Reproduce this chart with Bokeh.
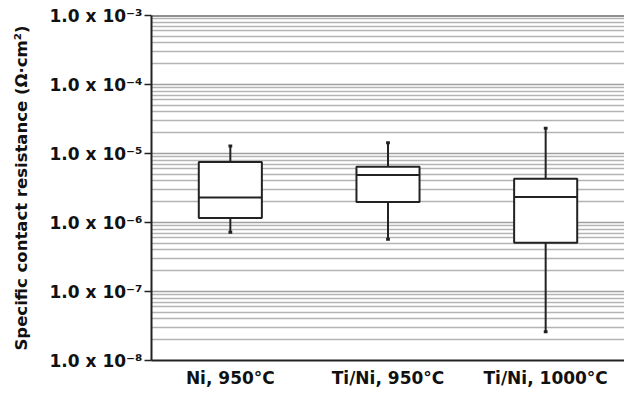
from bokeh.plotting import figure
from bokeh.embed import file_html
from bokeh.resources import INLINE
from bokeh.models import FixedTicker, Span

categories = ["Ni, 950°C", "Ti/Ni, 950°C", "Ti/Ni, 1000°C"]
whisker_low = [7.2e-7, 5.7e-7, 2.6e-8]
q1 = [1.16e-6, 1.98e-6, 5.1e-7]
median = [2.3e-6, 4.9e-6, 2.35e-6]
q3 = [7.5e-6, 6.4e-6, 4.3e-6]
whisker_high = [1.28e-5, 1.43e-5, 2.32e-5]
y_ticks = [1e-8, 1e-7, 1e-6, 1e-5, 1e-4, 1e-3]
y_tick_labels = ["1.0 x 10⁻⁸", "1.0 x 10⁻⁷", "1.0 x 10⁻⁶", "1.0 x 10⁻⁵", "1.0 x 10⁻⁴", "1.0 x 10⁻³"]

FONT = "DejaVu Sans"

p = figure(width=624, height=394, output_backend="svg", toolbar_location=None,
           y_axis_type="log", x_range=(0, 3), y_range=(1e-8, 1e-3),
           min_border_left=151, min_border_right=0, min_border_top=15, min_border_bottom=34)
p.outline_line_color = None
p.background_fill_color = "white"
p.border_fill_color = "white"

minor = [m * 10.0 ** e for e in range(-8, -3) for m in range(2, 10)]
p.yaxis.ticker = FixedTicker(ticks=y_ticks, minor_ticks=minor)
p.yaxis.major_label_overrides = {t: l for t, l in zip(y_ticks, y_tick_labels)}
p.ygrid.grid_line_color = "#a0a0a0"
p.ygrid.grid_line_width = 1.5
p.ygrid.minor_grid_line_color = "#b4b4b4"
p.ygrid.minor_grid_line_width = 1.5
p.xgrid.grid_line_color = None

p.yaxis.axis_line_color = "#222222"
p.yaxis.axis_line_width = 2
p.yaxis.major_tick_line_color = "#222222"
p.yaxis.major_tick_line_width = 1.5
p.yaxis.major_tick_out = 7
p.yaxis.major_tick_in = 0
p.yaxis.minor_tick_line_color = None
p.yaxis.major_label_text_font = FONT
p.yaxis.major_label_text_font_style = "bold"
p.yaxis.major_label_text_font_size = "17px"
p.yaxis.major_label_text_color = "#111111"
p.yaxis.major_label_standoff = 2
p.yaxis.axis_label = "Specific contact resistance (Ω·cm²)"
p.yaxis.axis_label_text_font = FONT
p.yaxis.axis_label_text_font_style = "bold"
p.yaxis.axis_label_text_font_size = "16.5px"
p.yaxis.axis_label_text_color = "#111111"
p.yaxis.axis_label_standoff = 16

xs = [0.5, 1.5, 2.5]
p.xaxis.ticker = FixedTicker(ticks=xs)
p.xaxis.major_label_overrides = {x: c for x, c in zip(xs, categories)}
p.xaxis.axis_line_color = "#222222"
p.xaxis.axis_line_width = 2
p.xaxis.major_tick_line_color = None
p.xaxis.minor_tick_line_color = None
p.xaxis.major_label_text_font = FONT
p.xaxis.major_label_text_font_style = "bold"
p.xaxis.major_label_text_font_size = "17px"
p.xaxis.major_label_text_color = "#111111"
p.xaxis.major_label_standoff = 1

p.add_layout(Span(location=1e-3, dimension="width", line_color="#222222", line_width=2))

bw = 0.2
cap = 0.012
p.segment(x0=xs, x1=xs, y0=q3, y1=whisker_high, line_color="#222222", line_width=2)
p.segment(x0=xs, x1=xs, y0=q1, y1=whisker_low, line_color="#222222", line_width=2)
p.segment(x0=[x - cap for x in xs], x1=[x + cap for x in xs], y0=whisker_high, y1=whisker_high,
          line_color="#222222", line_width=3)
p.segment(x0=[x - cap for x in xs], x1=[x + cap for x in xs], y0=whisker_low, y1=whisker_low,
          line_color="#222222", line_width=3)
p.vbar(x=xs, width=2 * bw, bottom=q1, top=q3, fill_color="white", line_color="#222222", line_width=2)
p.segment(x0=[x - bw for x in xs], x1=[x + bw for x in xs], y0=median, y1=median,
          line_color="#222222", line_width=2)

open("out.html", "w").write(file_html(p, INLINE))
